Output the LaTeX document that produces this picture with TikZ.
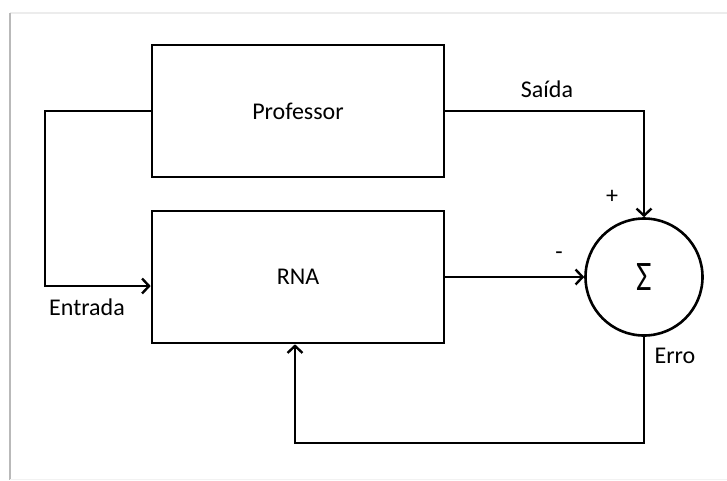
\documentclass[tikz,border=0pt]{standalone}
\usepackage{fontspec}
\setmainfont{Carlito}
\usetikzlibrary{arrows.meta,positioning}
\begin{document}
\begin{tikzpicture}[
          x = 1pt, y = -1pt,
          font = \fontsize{24}{28}\selectfont,
          bloco/.style = {draw, line width = 2.6pt, minimum width = 292pt, minimum height = 132pt},
          soma/.style = {draw, circle, line width = 2.6pt, minimum size = 117pt, inner sep = 0pt},
          fio/.style = {line width = 2.6pt},
          seta/.style = {fio, -{Straight Barb[length = 7pt, width = 15pt, line width = 2.4pt]}},
          rotulo/.style = {inner sep = 0pt},
        ]
          \useasboundingbox (0,0) rectangle (727,480);
          % sombra da moldura
          \draw[gray!15, line width = 1.5pt] (10,13) -- (727,13);
          \draw[gray!55, line width = 2pt] (10,13) -- (10,480);
          \draw[gray!10, line width = 1pt] (10,479) -- (727,479);
          % blocos
          \node[bloco] (prof) at (298,111) {Professor};
          \node[bloco] (rna) at (298,277) {RNA};
          \node[soma] (sum) at (644,277) {\fontsize{42}{42}\selectfont\scalebox{0.8}[1]{Σ}};
          \coordinate (ent) at (45,111);
          \coordinate (fb) at (295,443);
          % ligacoes
          \draw[seta] (prof.west) -- (ent) |- ([yshift = -9pt]rna.west);
          \draw[seta] (prof.east) -| (sum.north);
          \draw[seta] (rna.east) -- (sum.west);
          \draw[seta] (sum.south) |- (fb) -- (fb |- rna.south);
          % rotulos
          \node[rotulo] (saida) at (547,89) {Saída};
          \node[rotulo] (mais) at (612,197) {+};
          \node[rotulo] (menos) at (559,256) {-};
          \node[rotulo] (entrada) at (87,307) {Entrada};
          \node[rotulo] (erro) at (675,356) {Erro};
        \end{tikzpicture}
\end{document}
